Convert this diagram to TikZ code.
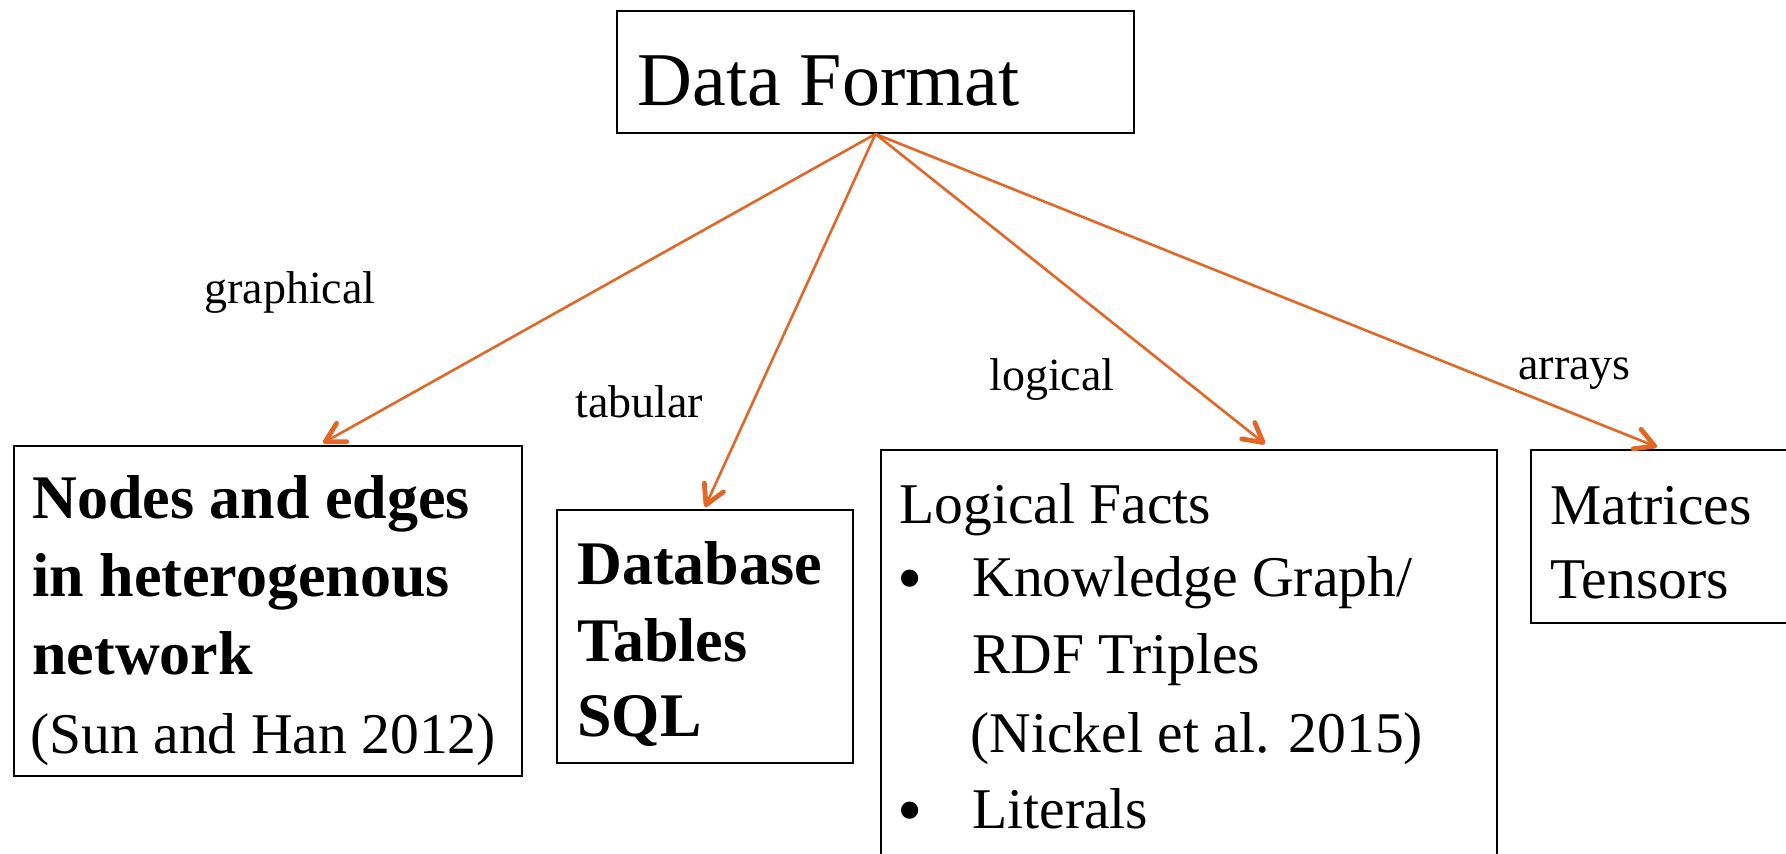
\documentclass[tikz,border=0pt]{standalone}
\usepackage{fontspec}
\setmainfont{Liberation Serif}
\usetikzlibrary{arrows.meta}
\definecolor{linkorange}{RGB}{226,102,38}
\begin{document}
\begin{tikzpicture}[x=0.5pt,y=-0.5pt,
  box/.style={draw, line width=1pt, inner sep=0pt, anchor=north west},
  txt/.style={anchor=base west, inner sep=0pt, font=\fontsize{28.8}{34}\selectfont},
  boldtxt/.style={anchor=base west, inner sep=0pt, font=\fontsize{31}{36}\selectfont\bfseries},
  lbl/.style={anchor=base west, inner sep=0pt, font=\fontsize{23}{28}\selectfont},
  dot/.style={anchor=base west, inner sep=0pt, font=\fontsize{36}{40}\selectfont},
  link/.style={draw=linkorange, line width=1.3pt,
    -{Straight Barb[length=9.5pt,width=10.5pt,line width=2.4pt,round]}}
]
\useasboundingbox (0,0) rectangle (1786,853);
\clip (0,0) rectangle (1786,853);

% boxes
\node[box, minimum width=258.5pt, minimum height=61pt] (top) at (616,10) {};
\node[box, minimum width=254pt, minimum height=165pt] (b1) at (13,445) {};
\node[box, minimum width=148pt, minimum height=126.5pt] (b2) at (556,509) {};
\node[box, minimum width=308pt, minimum height=250pt] (b3) at (880,449) {};
\node[box, minimum width=200pt, minimum height=86.5pt] (b4) at (1530,449) {};

% title
\node[txt, font=\fontsize{38}{44}\selectfont] (title) at (637,105) {Data Format};

% heterogeneous network box
\node[boldtxt] (b1l1) at (32,518) {Nodes and edges};
\node[boldtxt] (b1l2) at (32,596) {in heterogenous};
\node[boldtxt] (b1l3) at (32,674) {network};
\node[txt] (b1l4) at (30,753) {(Sun and Han 2012)};

% database box
\node[boldtxt] (b2l1) at (577,584) {Database};
\node[boldtxt] (b2l2) at (577,661) {Tables};
\node[boldtxt] (b2l3) at (577,736) {SQL};

% logical facts box
\node[txt] (b3l1) at (899,523) {Logical Facts};
\node[dot] (b3d1) at (897,602) {•};
\node[txt] (b3l2) at (972,596) {Knowledge Graph/};
\node[txt] (b3l3) at (972,673) {RDF Triples};
\node[txt] (b3l4) at (970,752) {(Nickel et al. 2015)};
\node[dot] (b3d2) at (897,834) {•};
\node[txt] (b3l5) at (972,828) {Literals};

% arrays box
\node[txt] (b4l1) at (1550,524) {Matrices};
\node[txt] (b4l2) at (1550,598) {Tensors};

% edge labels
\node[lbl] (lg) at (204,303) {graphical};
\node[lbl] (lt) at (575,417) {tabular};
\node[lbl] (ll) at (989,390) {logical};
\node[lbl] (la) at (1518,379) {arrays};

% arrow tips on the box tops
\coordinate (t1) at (323,443);
\coordinate (t2) at (705,507);
\coordinate (t3) at (1265,444);
\coordinate (t4) at (1657,447);

\draw[link] (top.south) -- (t1);
\draw[link] (top.south) -- (t2);
\draw[link] (top.south) -- (t3);
\draw[link] (top.south) -- (t4);
\end{tikzpicture}
\end{document}
